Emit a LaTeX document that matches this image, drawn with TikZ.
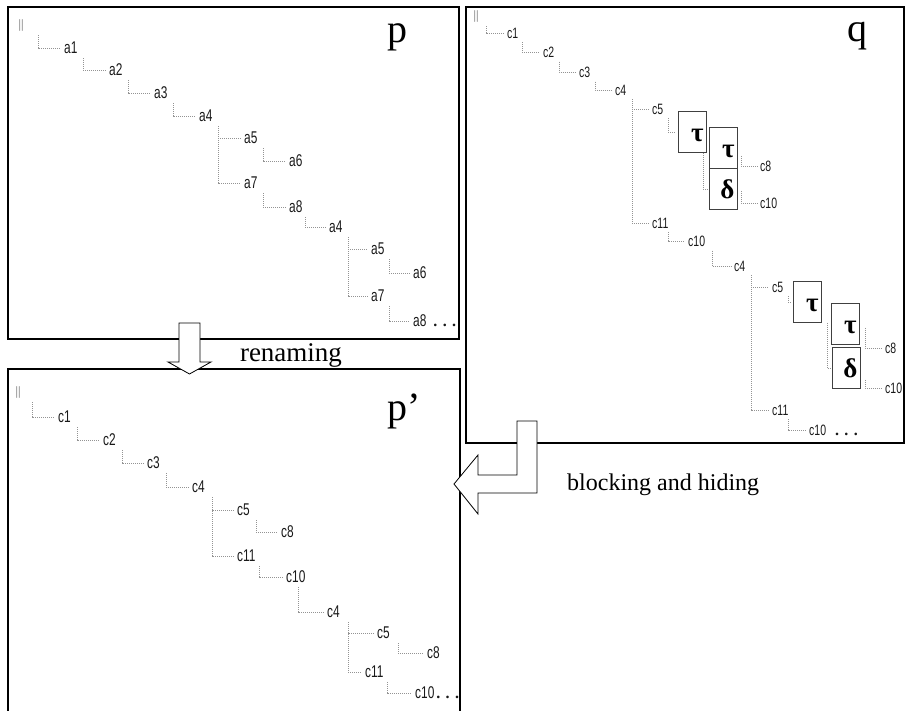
\documentclass[tikz,border=0pt]{standalone}
\usepackage{fontspec}
\setmainfont{Liberation Serif}
\newfontfamily\treefont[FakeStretch=0.7]{Liberation Sans}

\tikzset{
  panel/.style={black, line width=1.1pt},
  bigarrow/.style={black, line width=0.8pt, fill=white, line join=miter},
  treelink/.style={gray!85, line width=0.8pt, dash pattern=on 1pt off 1pt, shorten >=2pt},
  treeitem/.style={anchor=west, inner sep=1pt, text=black!90, font=\treefont\fontsize{17}{17}\selectfont},
  smallitem/.style={treeitem, font=\treefont\fontsize{15}{15}\selectfont},
  rootmark/.style={anchor=west, inner sep=0pt, text=black!80, font=\fontsize{13}{13}\selectfont},
  actbox/.style={draw=black!75, line width=0.9pt, fill=white, anchor=north west, inner sep=3pt,
    text width=22pt, align=right, text height=27pt, text depth=8pt, font=\bfseries\fontsize{27}{27}\selectfont},
  procname/.style={anchor=base west, inner sep=0pt, font=\fontsize{40}{40}\selectfont},
}
\newcommand{\more}{{\rmfamily\bfseries\fontsize{16}{16}\selectfont. . .}}

\begin{document}
\begin{tikzpicture}[x=1pt, y=-1pt]
\useasboundingbox (0,0) rectangle (906,711);

% the three panels
\draw[panel] (8,7) rectangle (459,339);
\draw[panel] (466,7) rectangle (904,443);
\draw[panel] (8,369) rectangle (460,720);

% renaming: p -> p'
\draw[bigarrow] (179,323) -- (200,323) -- (200,362) -- (211,362) -- (189.5,374)
  -- (168,362) -- (179,362) -- cycle;
\node[anchor=base, inner sep=0pt, font=\fontsize{27}{27}\selectfont] (ren) at (291,362) {renaming};

% blocking and hiding: q -> p'
\draw[bigarrow] (517,421) -- (537,421) -- (537,493) -- (478,493) -- (478,514) -- (454,484)
  -- (478,455) -- (478,475) -- (517,475) -- cycle;
\node[anchor=base west, inner sep=0pt, font=\fontsize{24}{24}\selectfont] (bh) at (567,490) {blocking and hiding};

% process p
\node[procname] (pn) at (387,43) {p};
\node[rootmark] (pr) at (18,26) {$\Vert$};
\node[treeitem] (pa1) at (63,48) {a1};
\node[treeitem] (pa2) at (108,70) {a2};
\node[treeitem] (pa3) at (153,93) {a3};
\node[treeitem] (pa4) at (198,116) {a4};
\node[treeitem] (pa5) at (243,138) {a5};
\node[treeitem] (pa6) at (288,161) {a6};
\node[treeitem] (pa7) at (243,183) {a7};
\node[treeitem] (pa8) at (288,207) {a8};
\node[treeitem] (pb4) at (328,227) {a4};
\node[treeitem] (pb5) at (370,249) {a5};
\node[treeitem] (pb6) at (412,273) {a6};
\node[treeitem] (pb7) at (370,296) {a7};
\node[treeitem] (pb8) at (412,321) {a8\hspace{7pt}\more};
\foreach \u/\v/\s in {pr/pa1/20, pa1/pa2/20, pa2/pa3/20, pa3/pa4/20, pa4/pa5/20, pa5/pa6/20,
    pa4/pa7/20, pa7/pa8/20, pa8/pb4/17, pb4/pb5/20, pb5/pb6/19, pb4/pb7/20, pb7/pb8/19}
  \draw[treelink] ([xshift=\s, yshift=-3pt]\u.south west) |- (\v.west);

% process q
\node[procname] (qn) at (847,42) {q};
\node[rootmark] (qr) at (473,17) {$\Vert$};
\node[smallitem] (qc1) at (506,33) {c1};
\node[smallitem] (qc2) at (542,52) {c2};
\node[smallitem] (qc3) at (578,72) {c3};
\node[smallitem] (qc4) at (614,90) {c4};
\node[smallitem] (qc5) at (651,109) {c5};
\node[actbox] (qt1) at (678,111) {τ};
\node[actbox] (qt2) at (709,127) {τ};
\node[actbox] (qd1) at (709,168) {δ};
\node[smallitem] (qc8) at (759,166) {c8};
\node[smallitem] (qc10) at (759,203) {c10};
\node[smallitem] (qc11) at (651,223) {c11};
\node[smallitem] (qd10) at (687,241) {c10};
\node[smallitem] (qe4) at (733,266) {c4};
\node[smallitem] (qe5) at (771,287) {c5};
\node[actbox] (qt3) at (793,281) {τ};
\node[actbox] (qt4) at (831,303) {τ};
\node[actbox] (qd2) at (832,347) {δ};
\node[smallitem] (qe8) at (884,348) {c8};
\node[smallitem] (qe10) at (884,388) {c10};
\node[smallitem] (qe11) at (771,410) {c11};
\node[smallitem] (qf10) at (808,430) {c10\hspace{9pt}\more};
\foreach \u/\v/\s in {qr/qc1/13, qc1/qc2/16, qc2/qc3/17, qc3/qc4/17, qc4/qc5/18, qc4/qc11/18,
    qc5/qt1/17, qc11/qd10/17, qd10/qe4/25, qe4/qe5/18, qe4/qe11/18, qe5/qt3/17, qe11/qf10/17}
  \draw[treelink] ([xshift=\s, yshift=-3pt]\u.south west) |- (\v.west);
\draw[treelink] ([xshift=-4pt]qt1.south east) |- (qd1.west);
\draw[treelink] ([xshift=3pt, yshift=-8pt]qt2.east) |- (qc8.west);
\draw[treelink] ([xshift=3pt, yshift=-2pt]qd1.east) |- (qc10.west);
\draw[treelink] ([xshift=5pt]qt3.south east) |- (qd2.west);
\draw[treelink] ([xshift=5pt, yshift=-4pt]qt4.east) |- (qe8.west);
\draw[treelink] ([xshift=4pt, yshift=-12pt]qd2.east) |- (qe10.west);

% process p'
\node[procname] (rn) at (387,421) {p’};
\node[rootmark] (rr) at (15,393) {$\Vert$};
\node[treeitem] (rc1) at (57,417) {c1};
\node[treeitem] (rc2) at (102,440) {c2};
\node[treeitem] (rc3) at (146,463) {c3};
\node[treeitem] (rc4) at (191,487) {c4};
\node[treeitem] (rc5) at (236,510) {c5};
\node[treeitem] (rc8) at (280,532) {c8};
\node[treeitem] (rc11) at (236,556) {c11};
\node[treeitem] (rc10) at (285,577) {c10};
\node[treeitem] (rd4) at (326,612) {c4};
\node[treeitem] (rd5) at (376,633) {c5};
\node[treeitem] (rd8) at (426,653) {c8};
\node[treeitem] (rd11) at (364,672) {c11};
\node[treeitem] (rd10) at (414,693) {c10\hspace{2pt}\more};
\foreach \u/\v/\s in {rr/rc1/17, rc1/rc2/20, rc2/rc3/20, rc3/rc4/20, rc4/rc5/21, rc5/rc8/20,
    rc4/rc11/21, rc11/rc10/23, rc10/rd4/13, rd4/rd5/22, rd5/rd8/22, rd4/rd11/22, rd11/rd10/23}
  \draw[treelink] ([xshift=\s, yshift=-3pt]\u.south west) |- (\v.west);
\end{tikzpicture}
\end{document}
